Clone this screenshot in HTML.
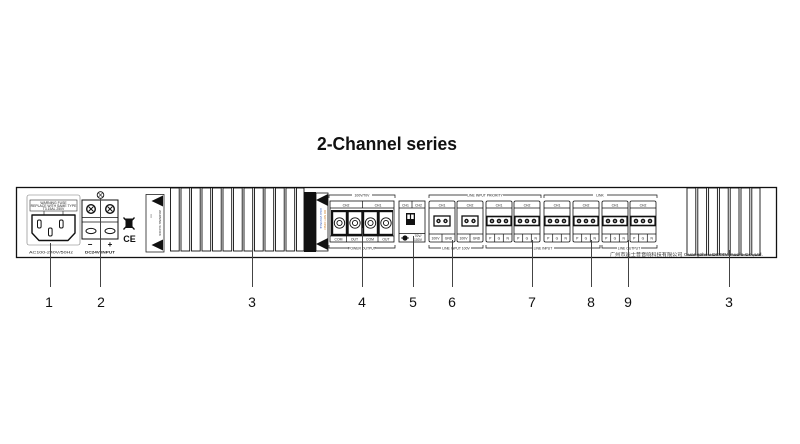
<!DOCTYPE html>
<html><head><meta charset="utf-8"><style>
html,body{margin:0;padding:0;background:#fff;}
svg{display:block;}
text{font-family:"Liberation Sans","Noto Sans CJK SC",sans-serif;}
.t{font-size:3.4px;text-anchor:middle;fill:#222;}
.b{fill:#fff;stroke:#111;stroke-width:0.8;}
.n{font-size:14px;text-anchor:middle;fill:#111;}
</style></head><body>
<svg width="800" height="444" viewBox="0 0 800 444" xmlns="http://www.w3.org/2000/svg">
<rect width="800" height="444" fill="#fff"/>
<text x="317" y="150" font-size="18" font-weight="bold" textLength="140" lengthAdjust="spacingAndGlyphs" fill="#111">2-Channel series</text>

<!-- panel -->
<rect x="16.5" y="187.5" width="760" height="70" fill="#fff" stroke="#111" stroke-width="1.3"/>

<!-- IEC socket -->
<rect x="27" y="195" width="53" height="50" rx="2" fill="#fff" stroke="#777" stroke-width="0.6"/>
<rect x="30" y="200" width="47" height="11" fill="#fff" stroke="#333" stroke-width="0.6"/>
<text x="53.5" y="204" class="t" font-size="2.6">WARNING FUSE</text>
<text x="53.5" y="207" class="t" font-size="2.6">REPLACE WITH SAME TYPE</text>
<text x="53.5" y="210" class="t" font-size="2.6">T3.15AL 250V</text>
<line x1="44" y1="211" x2="44" y2="215" stroke="#333" stroke-width="0.7"/>
<line x1="63" y1="211" x2="63" y2="215" stroke="#333" stroke-width="0.7"/>
<path d="M32,215 H75 V233 L68,240.5 H39 L32,233 Z" fill="#fff" stroke="#111" stroke-width="1.4" stroke-linejoin="round"/>
<rect x="37.5" y="220" width="3.6" height="8" rx="1.5" fill="#fff" stroke="#111" stroke-width="1"/>
<rect x="59.5" y="220" width="3.6" height="8" rx="1.5" fill="#fff" stroke="#111" stroke-width="1"/>
<rect x="48.5" y="228" width="3.6" height="8" rx="1.5" fill="#fff" stroke="#111" stroke-width="1"/>
<text x="51" y="253.5" class="t" font-size="4.4" textLength="44" lengthAdjust="spacingAndGlyphs">AC100-240V/50Hz</text>

<!-- DC terminal -->
<circle cx="100.5" cy="195" r="3.3" fill="#fff" stroke="#111" stroke-width="0.9"/>
<line x1="98.3" y1="192.8" x2="102.7" y2="197.2" stroke="#111" stroke-width="0.6"/>
<line x1="102.7" y1="192.8" x2="98.3" y2="197.2" stroke="#111" stroke-width="0.6"/>
<rect x="82" y="200" width="36" height="39" fill="#fff" stroke="#111" stroke-width="1"/>
<line x1="82" y1="217.5" x2="118" y2="217.5" stroke="#111" stroke-width="0.8"/>
<line x1="82" y1="222" x2="118" y2="222" stroke="#111" stroke-width="0.8"/>
<circle cx="91" cy="209" r="4.3" fill="#fff" stroke="#111" stroke-width="1.4"/>
<circle cx="110" cy="209" r="4.3" fill="#fff" stroke="#111" stroke-width="1.4"/>
<g stroke="#111" stroke-width="1">
<line x1="88.6" y1="206.6" x2="93.4" y2="211.4"/><line x1="93.4" y1="206.6" x2="88.6" y2="211.4"/>
<line x1="107.6" y1="206.6" x2="112.4" y2="211.4"/><line x1="112.4" y1="206.6" x2="107.6" y2="211.4"/>
</g>
<ellipse cx="91" cy="231" rx="5" ry="2.6" fill="#fff" stroke="#111" stroke-width="1"/>
<ellipse cx="110" cy="231" rx="5" ry="2.6" fill="#fff" stroke="#111" stroke-width="1"/>
<text x="90" y="247" font-size="8" font-weight="bold" text-anchor="middle">−</text>
<text x="110" y="247" font-size="8" font-weight="bold" text-anchor="middle">+</text>
<text x="100" y="253.5" class="t" font-size="4.4" font-weight="bold" textLength="30" lengthAdjust="spacingAndGlyphs">DC24V INPUT</text>

<!-- WEEE & CE -->
<rect x="125.5" y="220" width="7" height="8" fill="#111"/>
<rect x="124.5" y="218.5" width="9" height="1.5" fill="#111"/>
<g stroke="#111" stroke-width="1.3" fill="none">
<line x1="123.5" y1="217.5" x2="134.5" y2="229.5"/>
<line x1="134.5" y1="217.5" x2="123.5" y2="229.5"/>
</g>
<text x="129.5" y="242" font-size="9" font-weight="bold" text-anchor="middle" fill="#111">CE</text>

<!-- left warning label -->
<rect x="146" y="194.5" width="18" height="57.5" fill="#fff" stroke="#222" stroke-width="0.8"/>
<polygon points="151.5,201 163,195.5 163,206.5" fill="#111"/>
<polygon points="151.5,245 163,239.5 163,250.5" fill="#111"/>
<text x="0" y="0" font-size="3" fill="#333" transform="translate(159,210) rotate(90)">WARNING SHOCK</text>
<text x="0" y="0" font-size="2.6" fill="#333" transform="translate(150,214) rotate(90)">!! !!</text>

<!-- left fins -->
<g fill="#fff" stroke="#111" stroke-width="0.9">
<rect x="170.5" y="188" width="8.7" height="63"/>
<rect x="181" y="188" width="8.7" height="63"/>
<rect x="191.5" y="188" width="8.7" height="63"/>
<rect x="202" y="188" width="8.7" height="63"/>
<rect x="212.5" y="188" width="8.7" height="63"/>
<rect x="223" y="188" width="8.7" height="63"/>
<rect x="233.5" y="188" width="8.7" height="63"/>
<rect x="244" y="188" width="8.7" height="63"/>
<rect x="254.5" y="188" width="8.7" height="63"/>
<rect x="265" y="188" width="8.7" height="63"/>
<rect x="275.5" y="188" width="8.7" height="63"/>
<rect x="286" y="188" width="8.7" height="63"/>
<rect x="296.5" y="188" width="7.5" height="63"/>
</g>

<!-- right warning label -->
<rect x="304" y="192" width="12" height="60" fill="#111"/>
<rect x="316" y="193" width="12" height="58" fill="#fff" stroke="#111" stroke-width="0.8"/>
<polygon points="316,200 328,194 328,206" fill="#111"/>
<polygon points="316,244 328,238 328,250" fill="#111"/>
<text x="0" y="0" font-size="2.8" fill="#3a5fc0" transform="translate(320,208) rotate(90)">HIGH VOLTAGE</text>
<text x="0" y="0" font-size="2.8" fill="#d07a20" transform="translate(324,210) rotate(90)">DO NOT OPEN</text>

<!-- power output -->
<path d="M329,198 V195 H395 V198" fill="none" stroke="#111" stroke-width="0.7"/>
<rect x="352" y="192.5" width="20" height="5" fill="#fff"/>
<text x="362" y="196.3" class="t">100V/70V</text>
<rect x="330" y="201" width="64" height="41" class="b"/>
<line x1="330" y1="208" x2="394" y2="208" stroke="#111" stroke-width="0.7"/>
<line x1="362.5" y1="201" x2="362.5" y2="208" stroke="#111" stroke-width="0.7"/>
<text x="346" y="206.3" class="t">CH2</text>
<text x="378" y="206.3" class="t">CH1</text>
<rect x="331" y="210" width="62" height="26" fill="#111"/>
<g fill="#fff" stroke="#111">
<rect x="333" y="212" width="13" height="22" stroke-width="0.4"/>
<rect x="348.5" y="212" width="13" height="22" stroke-width="0.4"/>
<rect x="364" y="212" width="13" height="22" stroke-width="0.4"/>
<rect x="379.5" y="212" width="13" height="22" stroke-width="0.4"/>
</g>
<g fill="none" stroke="#111" stroke-width="0.9">
<circle cx="339.5" cy="223" r="5.2"/><circle cx="339.5" cy="223" r="2.6"/>
<circle cx="355" cy="223" r="5.2"/><circle cx="355" cy="223" r="2.6"/>
<circle cx="370.5" cy="223" r="5.2"/><circle cx="370.5" cy="223" r="2.6"/>
<circle cx="386" cy="223" r="5.2"/><circle cx="386" cy="223" r="2.6"/>
</g>
<g stroke="#111" stroke-width="0.7">
<line x1="330" y1="236" x2="394" y2="236"/>
<line x1="346.5" y1="236" x2="346.5" y2="242"/>
<line x1="362.5" y1="236" x2="362.5" y2="242"/>
<line x1="378" y1="236" x2="378" y2="242"/>
</g>
<text x="338.5" y="240.6" class="t">COM</text>
<text x="354.5" y="240.6" class="t">OUT</text>
<text x="370" y="240.6" class="t">COM</text>
<text x="386" y="240.6" class="t">OUT</text>
<path d="M329,245 V248 H395 V245" fill="none" stroke="#111" stroke-width="0.7"/>
<rect x="349" y="245.5" width="26" height="5" fill="#fff"/>
<text x="362" y="249.3" class="t">POWER OUTPUT</text>

<!-- DIP -->
<rect x="399" y="201" width="26" height="41" class="b"/>
<line x1="399" y1="208" x2="425" y2="208" stroke="#111" stroke-width="0.7"/>
<line x1="412" y1="201" x2="412" y2="208" stroke="#111" stroke-width="0.7"/>
<text x="405.5" y="206.3" class="t">CH1</text>
<text x="418.5" y="206.3" class="t">CH2</text>
<rect x="406" y="213" width="9" height="12" fill="#111"/>
<rect x="407.3" y="214.5" width="2.6" height="4.5" fill="#fff"/>
<rect x="411.1" y="214.5" width="2.6" height="4.5" fill="#fff"/>
<line x1="399" y1="233.5" x2="425" y2="233.5" stroke="#111" stroke-width="0.7"/>
<circle cx="405" cy="238" r="2.6" fill="#111"/>
<line x1="401" y1="238" x2="409" y2="238" stroke="#111" stroke-width="0.8"/>
<text x="418" y="237" class="t" font-size="3">70V/</text>
<text x="418" y="240.8" class="t" font-size="3">100V</text>

<!-- brackets top -->
<path d="M429,198 V195 H541 V198" fill="none" stroke="#111" stroke-width="0.7"/>
<rect x="467" y="192.5" width="36" height="5" fill="#fff"/>
<text x="485" y="196.3" class="t">LINE INPUT PRIORITY</text>
<path d="M544,198 V195 H657 V198" fill="none" stroke="#111" stroke-width="0.7"/>
<rect x="593" y="192.5" width="14" height="5" fill="#fff"/>
<text x="600" y="196.3" class="t">LINK</text>

<!-- modules 2-pin -->
<g transform="translate(429,0)">
<rect x="0" y="201" width="26" height="41" rx="1.5" class="b"/>
<line x1="0" y1="208" x2="26" y2="208" stroke="#111" stroke-width="0.7"/>
<text x="13" y="206.3" class="t">CH1</text>
<rect x="5" y="216" width="16" height="10" fill="#fff" stroke="#111" stroke-width="1.3"/>
<circle cx="9.5" cy="221" r="2.2" fill="#111"/><circle cx="9.5" cy="221" r="0.8" fill="#fff"/>
<circle cx="16.5" cy="221" r="2.2" fill="#111"/><circle cx="16.5" cy="221" r="0.8" fill="#fff"/>
<line x1="0" y1="234" x2="26" y2="234" stroke="#111" stroke-width="0.7"/>
<line x1="13" y1="234" x2="13" y2="242" stroke="#111" stroke-width="0.7"/>
<text x="6.5" y="239.6" class="t">100V</text><text x="19.5" y="239.6" class="t">GND</text>
</g>
<g transform="translate(457,0)">
<rect x="0" y="201" width="26" height="41" rx="1.5" class="b"/>
<line x1="0" y1="208" x2="26" y2="208" stroke="#111" stroke-width="0.7"/>
<text x="13" y="206.3" class="t">CH2</text>
<rect x="5" y="216" width="16" height="10" fill="#fff" stroke="#111" stroke-width="1.3"/>
<circle cx="9.5" cy="221" r="2.2" fill="#111"/><circle cx="9.5" cy="221" r="0.8" fill="#fff"/>
<circle cx="16.5" cy="221" r="2.2" fill="#111"/><circle cx="16.5" cy="221" r="0.8" fill="#fff"/>
<line x1="0" y1="234" x2="26" y2="234" stroke="#111" stroke-width="0.7"/>
<line x1="13" y1="234" x2="13" y2="242" stroke="#111" stroke-width="0.7"/>
<text x="6.5" y="239.6" class="t">100V</text><text x="19.5" y="239.6" class="t">GND</text>
</g>

<!-- modules 3-pin -->
<g transform="translate(486,0)">
<rect x="0" y="201" width="26" height="41" rx="1.5" class="b"/>
<line x1="0" y1="208" x2="26" y2="208" stroke="#111" stroke-width="0.7"/>
<text x="13" y="206.3" class="t">CH1</text>
<rect x="0.8" y="216.5" width="24.4" height="9" fill="#fff" stroke="#111" stroke-width="1.6"/>
<circle cx="6" cy="221" r="2.3" fill="#111"/><circle cx="6" cy="221" r="0.8" fill="#fff"/>
<circle cx="13" cy="221" r="2.3" fill="#111"/><circle cx="13" cy="221" r="0.8" fill="#fff"/>
<circle cx="20" cy="221" r="2.3" fill="#111"/><circle cx="20" cy="221" r="0.8" fill="#fff"/>
<line x1="0" y1="234" x2="26" y2="234" stroke="#111" stroke-width="0.7"/>
<line x1="8.7" y1="234" x2="8.7" y2="242" stroke="#111" stroke-width="0.7"/>
<line x1="17.3" y1="234" x2="17.3" y2="242" stroke="#111" stroke-width="0.7"/>
<text x="4.3" y="239.6" class="t">P</text><text x="13" y="239.6" class="t">G</text><text x="21.7" y="239.6" class="t">N</text>
</g>
<g transform="translate(514,0)">
<rect x="0" y="201" width="26" height="41" rx="1.5" class="b"/>
<line x1="0" y1="208" x2="26" y2="208" stroke="#111" stroke-width="0.7"/>
<text x="13" y="206.3" class="t">CH2</text>
<rect x="0.8" y="216.5" width="24.4" height="9" fill="#fff" stroke="#111" stroke-width="1.6"/>
<circle cx="6" cy="221" r="2.3" fill="#111"/><circle cx="6" cy="221" r="0.8" fill="#fff"/>
<circle cx="13" cy="221" r="2.3" fill="#111"/><circle cx="13" cy="221" r="0.8" fill="#fff"/>
<circle cx="20" cy="221" r="2.3" fill="#111"/><circle cx="20" cy="221" r="0.8" fill="#fff"/>
<line x1="0" y1="234" x2="26" y2="234" stroke="#111" stroke-width="0.7"/>
<line x1="8.7" y1="234" x2="8.7" y2="242" stroke="#111" stroke-width="0.7"/>
<line x1="17.3" y1="234" x2="17.3" y2="242" stroke="#111" stroke-width="0.7"/>
<text x="4.3" y="239.6" class="t">P</text><text x="13" y="239.6" class="t">G</text><text x="21.7" y="239.6" class="t">N</text>
</g>
<g transform="translate(544,0)">
<rect x="0" y="201" width="26" height="41" rx="1.5" class="b"/>
<line x1="0" y1="208" x2="26" y2="208" stroke="#111" stroke-width="0.7"/>
<text x="13" y="206.3" class="t">CH1</text>
<rect x="0.8" y="216.5" width="24.4" height="9" fill="#fff" stroke="#111" stroke-width="1.6"/>
<circle cx="6" cy="221" r="2.3" fill="#111"/><circle cx="6" cy="221" r="0.8" fill="#fff"/>
<circle cx="13" cy="221" r="2.3" fill="#111"/><circle cx="13" cy="221" r="0.8" fill="#fff"/>
<circle cx="20" cy="221" r="2.3" fill="#111"/><circle cx="20" cy="221" r="0.8" fill="#fff"/>
<line x1="0" y1="234" x2="26" y2="234" stroke="#111" stroke-width="0.7"/>
<line x1="8.7" y1="234" x2="8.7" y2="242" stroke="#111" stroke-width="0.7"/>
<line x1="17.3" y1="234" x2="17.3" y2="242" stroke="#111" stroke-width="0.7"/>
<text x="4.3" y="239.6" class="t">P</text><text x="13" y="239.6" class="t">G</text><text x="21.7" y="239.6" class="t">N</text>
</g>
<g transform="translate(573,0)">
<rect x="0" y="201" width="26" height="41" rx="1.5" class="b"/>
<line x1="0" y1="208" x2="26" y2="208" stroke="#111" stroke-width="0.7"/>
<text x="13" y="206.3" class="t">CH2</text>
<rect x="0.8" y="216.5" width="24.4" height="9" fill="#fff" stroke="#111" stroke-width="1.6"/>
<circle cx="6" cy="221" r="2.3" fill="#111"/><circle cx="6" cy="221" r="0.8" fill="#fff"/>
<circle cx="13" cy="221" r="2.3" fill="#111"/><circle cx="13" cy="221" r="0.8" fill="#fff"/>
<circle cx="20" cy="221" r="2.3" fill="#111"/><circle cx="20" cy="221" r="0.8" fill="#fff"/>
<line x1="0" y1="234" x2="26" y2="234" stroke="#111" stroke-width="0.7"/>
<line x1="8.7" y1="234" x2="8.7" y2="242" stroke="#111" stroke-width="0.7"/>
<line x1="17.3" y1="234" x2="17.3" y2="242" stroke="#111" stroke-width="0.7"/>
<text x="4.3" y="239.6" class="t">P</text><text x="13" y="239.6" class="t">G</text><text x="21.7" y="239.6" class="t">N</text>
</g>
<g transform="translate(602,0)">
<rect x="0" y="201" width="26" height="41" rx="1.5" class="b"/>
<line x1="0" y1="208" x2="26" y2="208" stroke="#111" stroke-width="0.7"/>
<text x="13" y="206.3" class="t">CH1</text>
<rect x="0.8" y="216.5" width="24.4" height="9" fill="#fff" stroke="#111" stroke-width="1.6"/>
<circle cx="6" cy="221" r="2.3" fill="#111"/><circle cx="6" cy="221" r="0.8" fill="#fff"/>
<circle cx="13" cy="221" r="2.3" fill="#111"/><circle cx="13" cy="221" r="0.8" fill="#fff"/>
<circle cx="20" cy="221" r="2.3" fill="#111"/><circle cx="20" cy="221" r="0.8" fill="#fff"/>
<line x1="0" y1="234" x2="26" y2="234" stroke="#111" stroke-width="0.7"/>
<line x1="8.7" y1="234" x2="8.7" y2="242" stroke="#111" stroke-width="0.7"/>
<line x1="17.3" y1="234" x2="17.3" y2="242" stroke="#111" stroke-width="0.7"/>
<text x="4.3" y="239.6" class="t">P</text><text x="13" y="239.6" class="t">G</text><text x="21.7" y="239.6" class="t">N</text>
</g>
<g transform="translate(630,0)">
<rect x="0" y="201" width="26" height="41" rx="1.5" class="b"/>
<line x1="0" y1="208" x2="26" y2="208" stroke="#111" stroke-width="0.7"/>
<text x="13" y="206.3" class="t">CH2</text>
<rect x="0.8" y="216.5" width="24.4" height="9" fill="#fff" stroke="#111" stroke-width="1.6"/>
<circle cx="6" cy="221" r="2.3" fill="#111"/><circle cx="6" cy="221" r="0.8" fill="#fff"/>
<circle cx="13" cy="221" r="2.3" fill="#111"/><circle cx="13" cy="221" r="0.8" fill="#fff"/>
<circle cx="20" cy="221" r="2.3" fill="#111"/><circle cx="20" cy="221" r="0.8" fill="#fff"/>
<line x1="0" y1="234" x2="26" y2="234" stroke="#111" stroke-width="0.7"/>
<line x1="8.7" y1="234" x2="8.7" y2="242" stroke="#111" stroke-width="0.7"/>
<line x1="17.3" y1="234" x2="17.3" y2="242" stroke="#111" stroke-width="0.7"/>
<text x="4.3" y="239.6" class="t">P</text><text x="13" y="239.6" class="t">G</text><text x="21.7" y="239.6" class="t">N</text>
</g>

<!-- bottom brackets -->
<path d="M429,245 V248 H483 V245" fill="none" stroke="#111" stroke-width="0.7"/>
<rect x="441" y="245.5" width="30" height="5" fill="#fff"/>
<text x="456" y="249.3" class="t">LINE INPUT 100V</text>
<path d="M486,245 V248 H600 V245" fill="none" stroke="#111" stroke-width="0.7"/>
<rect x="532" y="245.5" width="22" height="5" fill="#fff"/>
<text x="543" y="249.3" class="t">LINE INPUT</text>
<path d="M602,245 V248 H657 V245" fill="none" stroke="#111" stroke-width="0.7"/>
<rect x="617" y="245.5" width="24" height="5" fill="#fff"/>
<text x="629" y="249.3" class="t">LINE OUTPUT</text>

<!-- right fins -->
<g fill="#fff" stroke="#111" stroke-width="0.9">
<rect x="687" y="188" width="8.8" height="67"/>
<rect x="697.8" y="188" width="8.8" height="67"/>
<rect x="708.6" y="188" width="8.8" height="67"/>
<rect x="719.4" y="188" width="8.8" height="67"/>
<rect x="730.2" y="188" width="8.8" height="67"/>
<rect x="741" y="188" width="8.8" height="67"/>
<rect x="751.8" y="188" width="8.2" height="67"/>
</g>
<text x="610" y="256" font-size="4.8" fill="#333" textLength="153" lengthAdjust="spacingAndGlyphs">广州市迪士普音响科技有限公司 Guangzhou DSPPA Audio Co.,Ltd.</text>

<!-- callout lines -->
<g stroke="#444" stroke-width="1">
<line x1="50.5" y1="243" x2="50.5" y2="287"/>
<line x1="100.5" y1="198" x2="100.5" y2="287"/>
<line x1="252.5" y1="248" x2="252.5" y2="287"/>
<line x1="362.5" y1="228" x2="362.5" y2="287"/>
<line x1="413.5" y1="236" x2="413.5" y2="287"/>
<line x1="452.5" y1="240" x2="452.5" y2="287"/>
<line x1="532.5" y1="240" x2="532.5" y2="287"/>
<line x1="591.5" y1="240" x2="591.5" y2="287"/>
<line x1="628.5" y1="240" x2="628.5" y2="287"/>
<line x1="729.5" y1="250" x2="729.5" y2="287"/>
</g>
<text x="49" y="307" class="n">1</text>
<text x="101" y="307" class="n">2</text>
<text x="252" y="307" class="n">3</text>
<text x="362" y="307" class="n">4</text>
<text x="413" y="307" class="n">5</text>
<text x="452" y="307" class="n">6</text>
<text x="532" y="307" class="n">7</text>
<text x="591" y="307" class="n">8</text>
<text x="628" y="307" class="n">9</text>
<text x="729" y="307" class="n">3</text>
</svg>
</body></html>
